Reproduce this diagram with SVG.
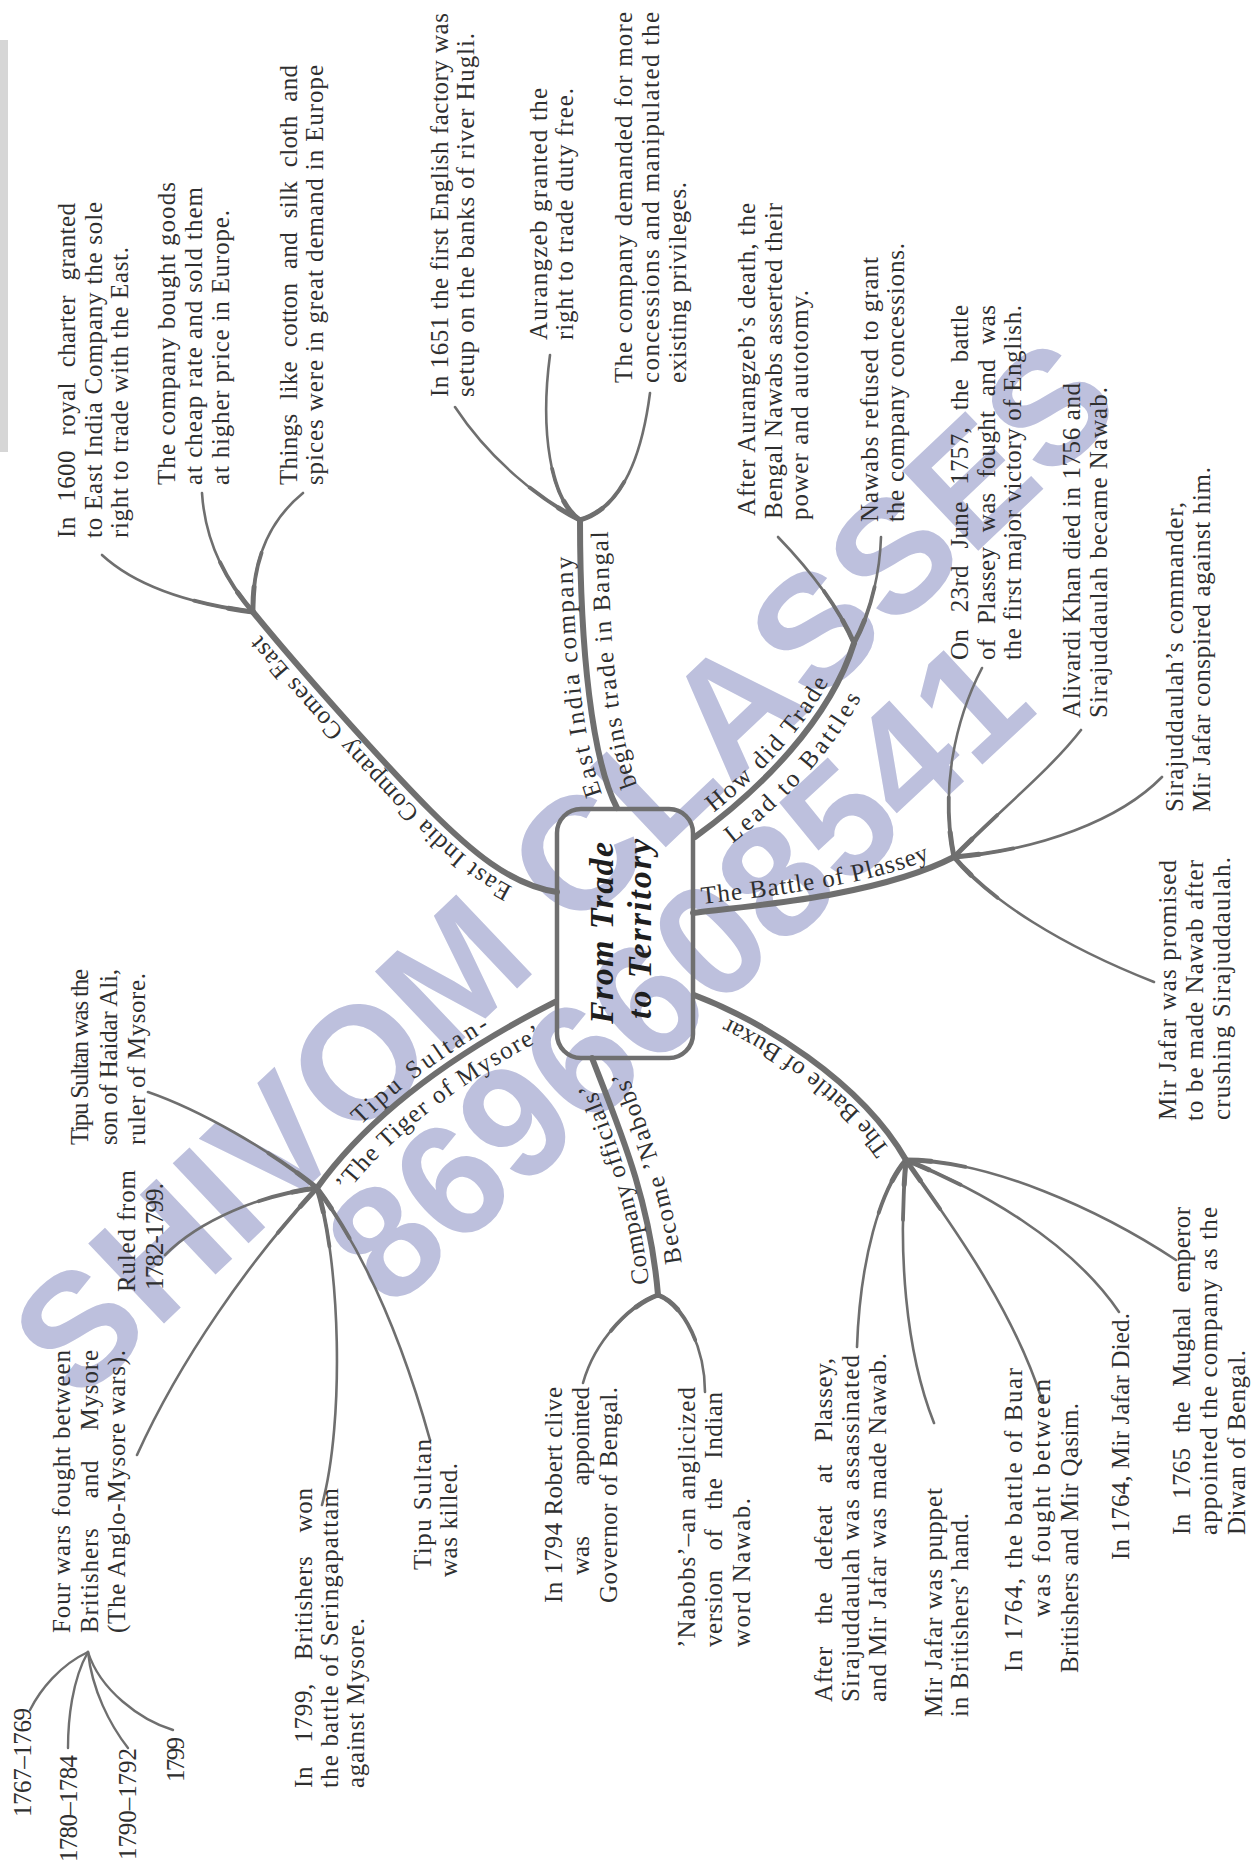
<svg xmlns="http://www.w3.org/2000/svg" width="1254" height="1864" viewBox="0 0 1254 1864">
<style>
.t{font-family:"Liberation Serif","Times New Roman",serif;font-size:25px;fill:#2f2f2f}
.lb{font-family:"Liberation Serif","Times New Roman",serif;font-size:25px;fill:#2f2f2f}
.ttl{font-family:"Liberation Serif","Times New Roman",serif;font-size:34px;font-style:italic;font-weight:bold;fill:#1e1e1e}
.br{fill:none;stroke:#6f6f6f;stroke-linecap:round}
.m{stroke-width:6}
.s0{stroke-width:2.6}
.s1{stroke-width:3.8;stroke-dasharray:60 3000}
.s2{stroke-width:5;stroke-dasharray:25 3000}
.x{stroke-width:2.4}
.wm{font-family:"Liberation Sans",Arial,sans-serif;font-weight:bold;font-size:160px;fill:#bdc0dd}
</style>
<defs>
<path id="pE" d="M557,892 C510,885 470,850 430,810 S300,670 253,612"/>
<path id="pB" d="M617,808 C592,760 580,650 580,520"/>
<path id="pH" d="M695,837 C760,790 830,720 854,643"/>
<path id="pP" d="M693,913 C760,905 880,895 954,857"/>
<path id="pX" d="M906,1160 C860,1080 760,1020 694,995"/>
<path id="pN" d="M658,1295 C650,1200 620,1130 592,1058"/>
<path id="pT" d="M317,1188 C380,1100 480,1040 555,1002"/>
<path id="a1" d="M253,612 C200,605 140,590 102,555"/>
<path id="a2" d="M253,612 C225,580 205,540 202,493"/>
<path id="a3" d="M253,612 C252,560 270,520 303,493"/>
<path id="a4" d="M580,520 C540,500 490,460 455,407"/>
<path id="a5" d="M580,520 C550,500 540,430 550,355"/>
<path id="a6" d="M580,520 C615,510 640,470 650,393"/>
<path id="a7" d="M854,643 C835,600 805,565 778,537"/>
<path id="a8" d="M854,643 C872,610 880,570 881,537"/>
<path id="a9" d="M954,857 C940,790 955,720 982,668"/>
<path id="a10" d="M954,857 C1000,810 1050,770 1081,730"/>
<path id="a11" d="M954,857 C1040,850 1120,820 1162,777"/>
<path id="a12" d="M954,857 C990,900 1060,945 1154,982"/>
<path id="a13" d="M906,1160 C880,1190 860,1260 857,1347"/>
<path id="a14" d="M906,1160 C898,1250 905,1350 934,1423"/>
<path id="a15" d="M906,1160 C940,1210 1010,1300 1042,1400"/>
<path id="a16" d="M906,1160 C980,1190 1070,1240 1119,1312"/>
<path id="a17" d="M906,1160 C990,1160 1100,1210 1176,1260"/>
<path id="a18" d="M658,1295 C630,1305 595,1340 583,1383"/>
<path id="a19" d="M658,1295 C685,1305 705,1350 705,1392"/>
<path id="a20" d="M317,1188 C270,1150 200,1110 148,1092"/>
<path id="a21" d="M317,1188 C260,1195 200,1220 165,1255"/>
<path id="a22" d="M317,1188 C250,1260 180,1360 137,1455"/>
<path id="a23" d="M317,1188 C340,1260 345,1420 322,1505"/>
<path id="a24" d="M317,1188 C370,1260 405,1350 430,1440"/>
</defs>
<rect x="0" y="40" width="8" height="412" fill="#d6d6d6"/>
<g id="watermark">
<text class="wm" transform="translate(78,1405) rotate(-43.5)" textLength="1445">SHIVOM CLASSES</text>
<text class="wm" transform="translate(391,1312) rotate(-42.8)" textLength="885">8696608541</text>
</g>
<g id="connectors">
<use href="#pE" class="br m"/>
<use href="#pB" class="br m"/>
<use href="#pH" class="br m"/>
<use href="#pP" class="br m"/>
<use href="#pX" class="br m"/>
<use href="#pN" class="br m"/>
<use href="#pT" class="br m"/>
<g class="br s0">
<use href="#a1"/><use href="#a2"/><use href="#a3"/><use href="#a4"/><use href="#a5"/><use href="#a6"/>
<use href="#a7"/><use href="#a8"/><use href="#a9"/><use href="#a10"/><use href="#a11"/><use href="#a12"/>
<use href="#a13"/><use href="#a14"/><use href="#a15"/><use href="#a16"/><use href="#a17"/><use href="#a18"/>
<use href="#a19"/><use href="#a20"/><use href="#a21"/><use href="#a22"/><use href="#a23"/><use href="#a24"/>
</g>
<g class="br s1">
<use href="#a1"/><use href="#a2"/><use href="#a3"/><use href="#a4"/><use href="#a5"/><use href="#a6"/>
<use href="#a7"/><use href="#a8"/><use href="#a9"/><use href="#a10"/><use href="#a11"/><use href="#a12"/>
<use href="#a13"/><use href="#a14"/><use href="#a15"/><use href="#a16"/><use href="#a17"/><use href="#a18"/>
<use href="#a19"/><use href="#a20"/><use href="#a21"/><use href="#a22"/><use href="#a23"/><use href="#a24"/>
</g>
<g class="br s2">
<use href="#a1"/><use href="#a2"/><use href="#a3"/><use href="#a4"/><use href="#a5"/><use href="#a6"/>
<use href="#a7"/><use href="#a8"/><use href="#a9"/><use href="#a10"/><use href="#a11"/><use href="#a12"/>
<use href="#a13"/><use href="#a14"/><use href="#a15"/><use href="#a16"/><use href="#a17"/><use href="#a18"/>
<use href="#a19"/><use href="#a20"/><use href="#a21"/><use href="#a22"/><use href="#a23"/><use href="#a24"/>
</g>
<path class="br x" d="M88,1652 C60,1665 40,1690 30,1710"/>
<path class="br x" d="M88,1652 C72,1680 68,1720 68,1748"/>
<path class="br x" d="M88,1652 C92,1690 110,1725 128,1748"/>
<path class="br x" d="M88,1652 C100,1690 140,1720 173,1730"/>
</g>
<g id="center">
<rect x="557" y="809" width="136" height="249" rx="24" fill="none" stroke="#6f6f6f" stroke-width="4.5"/>
<text class="ttl" transform="translate(613,1024) rotate(-90)" textLength="182">From Trade</text>
<text class="ttl" transform="translate(651,1019) rotate(-90)" textLength="180">to Territory</text>
</g>
<g id="labels">
<text class="lb" dy="-9"><textPath href="#pE" startOffset="42" textLength="355">East India Company Comes East</textPath></text>
<text class="lb" dy="-8"><textPath href="#pB" startOffset="18" textLength="238">East India company</textPath></text>
<text class="lb" dy="28"><textPath href="#pB" startOffset="15" textLength="266">begins trade in Bangal</textPath></text>
<text class="lb" dy="-8"><textPath href="#pH" startOffset="30" textLength="178">How did Trade</textPath></text>
<text class="lb" dy="28"><textPath href="#pH" startOffset="25" textLength="185">Lead to Battles</textPath></text>
<text class="lb" dy="-8"><textPath href="#pP" startOffset="10" textLength="235">The Battle of Plassey</textPath></text>
<text class="lb" dy="-8"><textPath href="#pX" startOffset="18" textLength="215">The Battle of Buxar</textPath></text>
<text class="lb" dy="-8"><textPath href="#pN" startOffset="12" textLength="212">Company officials’</textPath></text>
<text class="lb" dy="27"><textPath href="#pN" startOffset="28" textLength="195">Become ’Nabobs’</textPath></text>
<text class="lb" dy="-8"><textPath href="#pT" startOffset="75" textLength="160">Tipu Sultan-</textPath></text>
<text class="lb" dy="27"><textPath href="#pT" startOffset="15" textLength="262">’The Tiger of Mysore’</textPath></text>
</g>
<g id="n-charter">
<text class="t" transform="translate(75,538) rotate(-90)" textLength="335" style="word-spacing:8px">In 1600 royal charter granted</text>
<text class="t" transform="translate(102,538) rotate(-90)" textLength="336">to East India Company the sole</text>
<text class="t" transform="translate(128,538) rotate(-90)" textLength="291">right to trade with the East.</text>
</g>
<g id="n-goods">
<text class="t" transform="translate(175,485) rotate(-90)" textLength="303">The company bought goods</text>
<text class="t" transform="translate(202,485) rotate(-90)" textLength="298">at cheap rate and sold them</text>
<text class="t" transform="translate(229,485) rotate(-90)" textLength="275">at higher price in Europe.</text>
</g>
<g id="n-things">
<text class="t" transform="translate(297,485) rotate(-90)" textLength="420" style="word-spacing:7px">Things like cotton and silk cloth and</text>
<text class="t" transform="translate(323,485) rotate(-90)" textLength="420">spices were in great demand in Europe</text>
</g>
<g id="n-1651">
<text class="t" transform="translate(448,397) rotate(-90)" textLength="384">In 1651 the first English factory was</text>
<text class="t" transform="translate(474,397) rotate(-90)" textLength="364">setup on the banks of river Hugli.</text>
</g>
<g id="n-aurangzeb">
<text class="t" transform="translate(547,340) rotate(-90)" textLength="252">Aurangzeb granted the</text>
<text class="t" transform="translate(573,340) rotate(-90)" textLength="252">right to trade duty free.</text>
</g>
<g id="n-demanded">
<text class="t" transform="translate(632,383) rotate(-90)" textLength="371">The company demanded for more</text>
<text class="t" transform="translate(659,383) rotate(-90)" textLength="371">concessions and manipulated the</text>
<text class="t" transform="translate(686,383) rotate(-90)" textLength="201">existing privileges.</text>
</g>
<g id="n-after-aurangzeb">
<text class="t" transform="translate(755,516) rotate(-90)" textLength="313">After Aurangzeb’s death, the</text>
<text class="t" transform="translate(782,519) rotate(-90)" textLength="316">Bengal Nawabs asserted their</text>
<text class="t" transform="translate(808,520) rotate(-90)" textLength="230">power and autotomy.</text>
</g>
<g id="n-refused">
<text class="t" transform="translate(878,522) rotate(-90)" textLength="265">Nawabs refused to grant</text>
<text class="t" transform="translate(904,522) rotate(-90)" textLength="279">the company concessions.</text>
</g>
<g id="n-23june">
<text class="t" transform="translate(968,660) rotate(-90)" textLength="355" style="word-spacing:10px">On 23rd June 1757, the battle</text>
<text class="t" transform="translate(995,660) rotate(-90)" textLength="355" style="word-spacing:8px">of Plassey was fought and was</text>
<text class="t" transform="translate(1021,660) rotate(-90)" textLength="355">the first major victory of English.</text>
</g>
<g id="n-alivardi">
<text class="t" transform="translate(1080,718) rotate(-90)" textLength="335">Alivardi Khan died in 1756 and</text>
<text class="t" transform="translate(1107,718) rotate(-90)" textLength="331">Sirajuddaulah became Nawab.</text>
</g>
<g id="n-commander">
<text class="t" transform="translate(1183,812) rotate(-90)" textLength="310">Sirajuddaulah’s commander,</text>
<text class="t" transform="translate(1210,812) rotate(-90)" textLength="345">Mir Jafar conspired against him.</text>
</g>
<g id="n-promised">
<text class="t" transform="translate(1176,1120) rotate(-90)" textLength="260">Mir Jafar was promised</text>
<text class="t" transform="translate(1203,1121) rotate(-90)" textLength="261">to be made Nawab after</text>
<text class="t" transform="translate(1230,1120) rotate(-90)" textLength="263">crushing Sirajuddaulah.</text>
</g>
<g id="n-diwan">
<text class="t" transform="translate(1190,1535) rotate(-90)" textLength="328" style="word-spacing:8px">In 1765 the Mughal emperor</text>
<text class="t" transform="translate(1217,1535) rotate(-90)" textLength="328">appointed the company as the</text>
<text class="t" transform="translate(1245,1535) rotate(-90)" textLength="185">Diwan of Bengal.</text>
</g>
<g id="n-mirjafar-died">
<text class="t" transform="translate(1129,1560) rotate(-90)" textLength="247">In 1764, Mir Jafar Died.</text>
</g>
<g id="n-buar">
<text class="t" transform="translate(1022,1672) rotate(-90)" textLength="304">In 1764, the battle of Buar</text>
<text class="t" transform="translate(1050,1617) rotate(-90)" textLength="238">was fought between</text>
<text class="t" transform="translate(1078,1673) rotate(-90)" textLength="270">Britishers and Mir Qasim.</text>
</g>
<g id="n-puppet">
<text class="t" transform="translate(942,1717) rotate(-90)" textLength="229">Mir Jafar was puppet</text>
<text class="t" transform="translate(968,1717) rotate(-90)" textLength="204">in Britishers’ hand.</text>
</g>
<g id="n-defeat">
<text class="t" transform="translate(832,1702) rotate(-90)" textLength="344" style="word-spacing:15px">After the defeat at Plassey,</text>
<text class="t" transform="translate(859,1702) rotate(-90)" textLength="347">Sirajuddaulah was assassinated</text>
<text class="t" transform="translate(886,1702) rotate(-90)" textLength="349">and Mir Jafar was made Nawab.</text>
</g>
<g id="n-clive">
<text class="t" transform="translate(562,1603) rotate(-90)" textLength="216">In 1794 Robert clive</text>
<text class="t" transform="translate(589,1575) rotate(-90)">was</text>
<text class="t" transform="translate(589,1387) rotate(-90)" text-anchor="end">appointed</text>
<text class="t" transform="translate(617,1603) rotate(-90)" textLength="216">Governor of Bengal.</text>
</g>
<g id="n-nabobs">
<text class="t" transform="translate(695,1648) rotate(-90)" textLength="261">’Nabobs’–an anglicized</text>
<text class="t" transform="translate(722,1647) rotate(-90)" textLength="255" style="word-spacing:12px">version of the Indian</text>
<text class="t" transform="translate(750,1647) rotate(-90)" textLength="149">word Nawab.</text>
</g>
<g id="n-killed">
<text class="t" transform="translate(431,1570) rotate(-90)" textLength="131">Tipu Sultan</text>
<text class="t" transform="translate(457,1577) rotate(-90)" textLength="114">was killed.</text>
</g>
<g id="n-seringapattam">
<text class="t" transform="translate(312,1788) rotate(-90)" textLength="300" style="word-spacing:16px">In 1799, Britishers won</text>
<text class="t" transform="translate(338,1788) rotate(-90)" textLength="300">the battle of Seringapattam</text>
<text class="t" transform="translate(364,1788) rotate(-90)" textLength="170">against Mysore.</text>
</g>
<g id="n-fourwars">
<text class="t" transform="translate(70,1633) rotate(-90)" textLength="283">Four wars fought between</text>
<text class="t" transform="translate(98,1633) rotate(-90)" textLength="283" style="word-spacing:22px">Britishers and Mysore</text>
<text class="t" transform="translate(125,1633) rotate(-90)" textLength="283">(The Anglo-Mysore wars).</text>
</g>
<g id="n-years">
<text class="t" transform="translate(31,1817) rotate(-90)" textLength="109">1767–1769</text>
<text class="t" transform="translate(77,1862) rotate(-90)" textLength="107">1780–1784</text>
<text class="t" transform="translate(136,1860) rotate(-90)" textLength="112">1790–1792</text>
<text class="t" transform="translate(184,1782) rotate(-90)" textLength="45">1799</text>
</g>
<g id="n-ruled">
<text class="t" transform="translate(135,1292) rotate(-90)" textLength="122">Ruled from</text>
<text class="t" transform="translate(163,1290) rotate(-90)" textLength="107">1782-1799.</text>
</g>
<g id="n-son">
<text class="t" transform="translate(88,1145) rotate(-90)" textLength="176">Tipu Sultan was the</text>
<text class="t" transform="translate(117,1145) rotate(-90)" textLength="176">son of Haidar Ali,</text>
<text class="t" transform="translate(145,1145) rotate(-90)" textLength="172">ruler of Mysore.</text>
</g>
</svg>
